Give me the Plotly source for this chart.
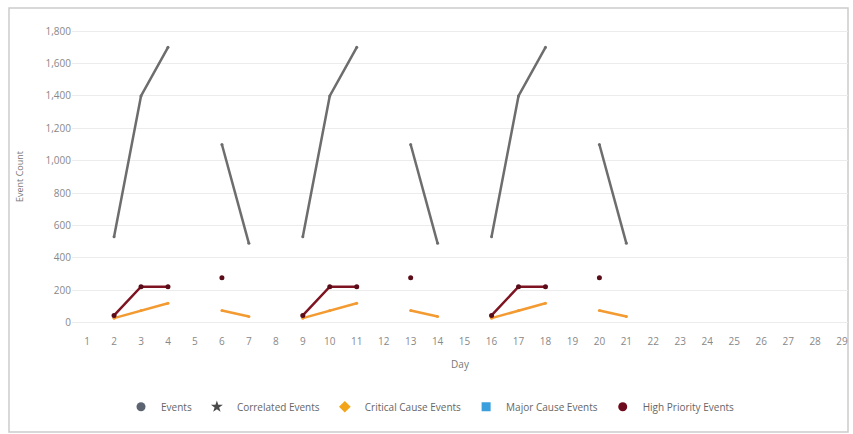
import plotly.graph_objects as go

days = list(range(1, 30))
N = None
events = [N, 530, 1400, 1700, N, 1100, 490, N, 530, 1400, 1700, N, 1100, 490, N,
          530, 1400, 1700, N, 1100, 490, N, N, N, N, N, N, N, N]
correlated = [N] * 29
critical = [N, 28, 75, 120, N, 75, 38, N, 28, 75, 120, N, 75, 38, N,
            28, 75, 120, N, 75, 38, N, N, N, N, N, N, N, N]
major = [N] * 29
high_priority = [N, 45, 222, 222, N, 278, N, N, 45, 222, 222, N, 278, N, N,
                 45, 222, 222, N, 278, N, N, N, N, N, N, N, N, N]

y_ticks = [0, 200, 400, 600, 800, 1000, 1200, 1400, 1600, 1800]

fig = go.Figure()

fig.add_trace(go.Scatter(x=days, y=events, mode="lines+markers", name="Events",
                         line=dict(color="#6d6d6d", width=2.5), marker=dict(size=3, color="#6d6d6d"),
                         showlegend=False, connectgaps=False))
fig.add_trace(go.Scatter(x=days, y=critical, mode="lines+markers", name="Critical Cause Events",
                         line=dict(color="#f39a30", width=2.5), marker=dict(size=3, color="#f39a30"),
                         showlegend=False))
fig.add_trace(go.Scatter(x=days, y=high_priority, mode="lines+markers", name="High Priority Events",
                         line=dict(color="#7e1422", width=2.5), marker=dict(size=5, color="#5a0d18"),
                         showlegend=False))
fig.add_trace(go.Scatter(x=days, y=correlated, mode="lines", showlegend=False,
                         line=dict(color="#555555")))
fig.add_trace(go.Scatter(x=days, y=major, mode="lines", showlegend=False,
                         line=dict(color="#3a9fdc")))

legend_items = [("Events", "circle", "#5b6470"),
                ("Correlated Events", "star", "#4a4a4a"),
                ("Critical Cause Events", "diamond", "#f2a51a"),
                ("Major Cause Events", "square", "#3a9fdc"),
                ("High Priority Events", "circle", "#6e0a1e")]
for name, sym, col in legend_items:
    fig.add_trace(go.Scatter(x=[N], y=[N], mode="markers", name=name,
                             marker=dict(symbol=sym, size=9, color=col)))

fig.update_layout(
    width=853, height=434,
    margin=dict(l=72, r=5, t=23, b=104),
    paper_bgcolor="white", plot_bgcolor="white",
    font=dict(family="Open Sans", size=10, color="#777777"),
    showlegend=True,
    legend=dict(orientation="h", x=0.462, xanchor="center", y=-0.25, yanchor="middle",
                font=dict(size=10, color="#666666"), itemwidth=30, tracegroupgap=0),
    xaxis=dict(range=[0.44, 29.22], tickmode="array", tickvals=days, automargin=False,
               ticktext=[str(d) for d in days], showgrid=False, zeroline=False,
               ticklabelstandoff=4,
               showline=False, title=dict(text="Day", font=dict(size=10, color="#777777"), standoff=13),
               tickfont=dict(size=10, color="#888888")),
    yaxis=dict(range=[-45, 1850], tickvals=y_ticks, tickformat=",d", automargin=False,
               showgrid=True, gridcolor="#ececec", gridwidth=1, zeroline=False,
               showline=False, title=dict(text="Event Count", font=dict(size=9, color="#777777"), standoff=20),
               tickfont=dict(size=10, color="#888888")),
    shapes=[dict(type="rect", xref="paper", yref="paper", x0=-0.0812, x1=1.0,
                 y0=-0.332, y1=1.049, line=dict(color="#cccccc", width=1.5), layer="below")],
)

fig.write_html("out.html", config={"displayModeBar": False},
               post_script="document.body.style.margin='0';")
